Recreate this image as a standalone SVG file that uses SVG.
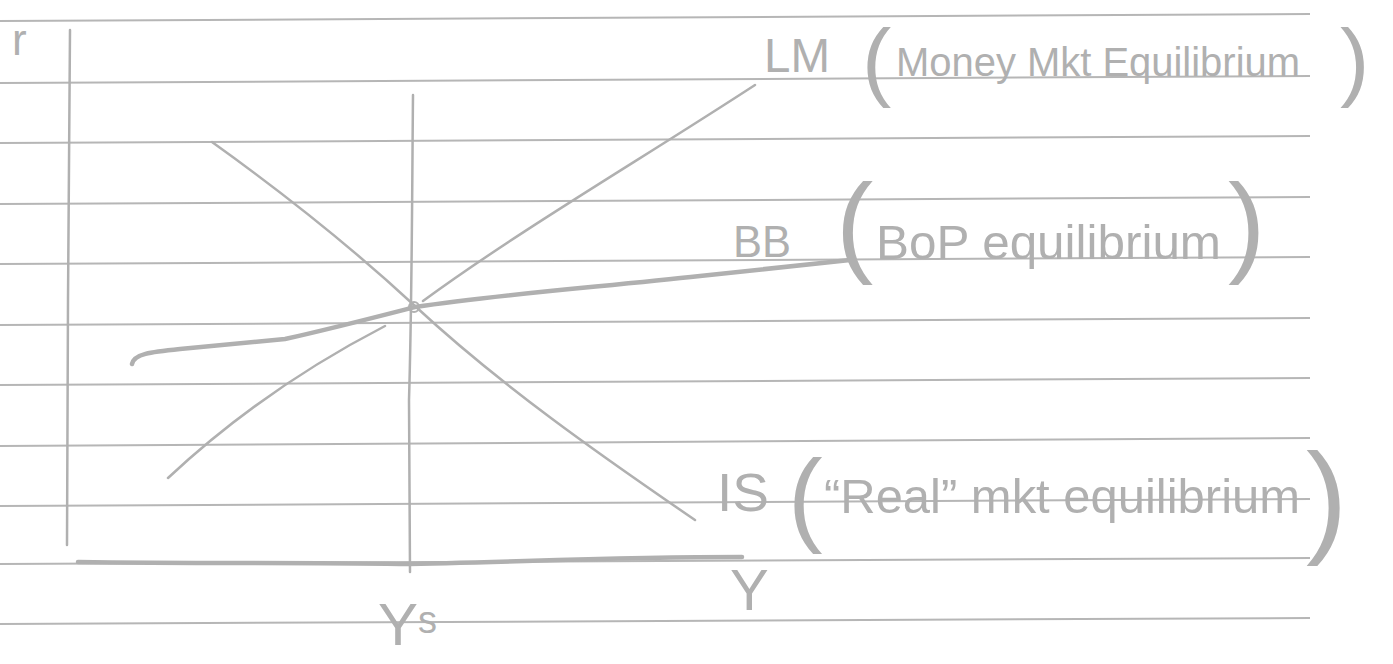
<svg xmlns="http://www.w3.org/2000/svg" width="1393" height="664" viewBox="0 0 1393 664">
<style>
.rule{stroke:#b6b6b6;stroke-width:2;fill:none}
.ink{stroke:#b0b0b0;stroke-width:2.5;fill:none;stroke-linecap:round;stroke-linejoin:round}
.thick{stroke:#b0b0b0;stroke-width:4.5;fill:none;stroke-linecap:round}
.lbl{font-family:"Liberation Sans","DejaVu Sans",sans-serif;fill:#b0b0b0}
.par{font-family:"Liberation Sans","DejaVu Sans",sans-serif;fill:#b0b0b0}
</style>
<rect width="1393" height="664" fill="#ffffff"/>
<g id="paper">
<path class="rule" d="M0,21 L1310,14"/>
<path class="rule" d="M0,83 L1310,76"/>
<path class="rule" d="M0,143 L1310,136"/>
<path class="rule" d="M0,204 L1310,197"/>
<path class="rule" d="M0,264 L1310,257"/>
<path class="rule" d="M0,325 L1310,318"/>
<path class="rule" d="M0,385 L1310,378"/>
<path class="rule" d="M0,446 L1310,438"/>
<path class="rule" d="M0,506 L1310,499"/>
<path class="rule" d="M0,564 L1310,558"/>
<path class="rule" d="M0,624 L1310,618"/>
</g>
<g id="axes">
<path class="ink" d="M70,30 L68,300 L67,545"/>
<path class="thick" d="M78,562 C200,564 300,562 400,564 C500,563 600,557 742,557"/>
<path class="ink" d="M413,95 C412,200 412,300 409,400 L410,572"/>
</g>
<g id="connectors">
<path id="LM" class="ink" d="M168,478 C230,420 300,370 385,326 M423,301 C520,230 640,160 755,85"/>
<path id="IS" class="ink" d="M212,142 C300,205 360,255 415,306 C500,385 600,455 695,520"/>
<path id="BB" class="thick" d="M132,364 C134,354 150,352 180,349 L285,339 C330,329 380,316 415,307 C500,294 600,287 700,276 L850,260"/>
<circle cx="414" cy="307" r="5" fill="none" stroke="#b0b0b0" stroke-width="2"/>
</g>
<g id="label-r"><text class="lbl" x="12" y="55" font-size="44">r</text></g>
<g id="label-LM">
<text class="lbl" x="764" y="72" font-size="48" textLength="66" lengthAdjust="spacingAndGlyphs">LM</text>
<text class="par" x="862" y="90" font-size="88">(</text>
<text class="lbl" x="896" y="76" font-size="40" textLength="404" lengthAdjust="spacingAndGlyphs">Money Mkt Equilibrium</text>
<text class="par" x="1340" y="90" font-size="88">)</text>
</g>
<g id="label-BB">
<text class="lbl" x="733" y="257" font-size="44" textLength="58" lengthAdjust="spacingAndGlyphs">BB</text>
<text class="par" x="836" y="262" font-size="112">(</text>
<text class="lbl" x="876" y="259" font-size="48" textLength="345" lengthAdjust="spacingAndGlyphs">BoP equilibrium</text>
<text class="par" x="1228" y="262" font-size="112">)</text>
</g>
<g id="label-IS">
<text class="lbl" x="717" y="511" font-size="54" textLength="52" lengthAdjust="spacingAndGlyphs">IS</text>
<text class="par" x="788" y="532" font-size="104">(</text>
<text class="lbl" x="824" y="513" font-size="48" textLength="476" lengthAdjust="spacingAndGlyphs">“Real” mkt equilibrium</text>
<text class="par" x="1306" y="540" font-size="124">)</text>
</g>
<g id="label-Ys"><text class="lbl" x="378" y="645" font-size="60">Y<tspan font-size="38" dy="-12">s</tspan></text></g>
<g id="label-Y"><text class="lbl" x="730" y="610" font-size="58">Y</text></g>
</svg>
